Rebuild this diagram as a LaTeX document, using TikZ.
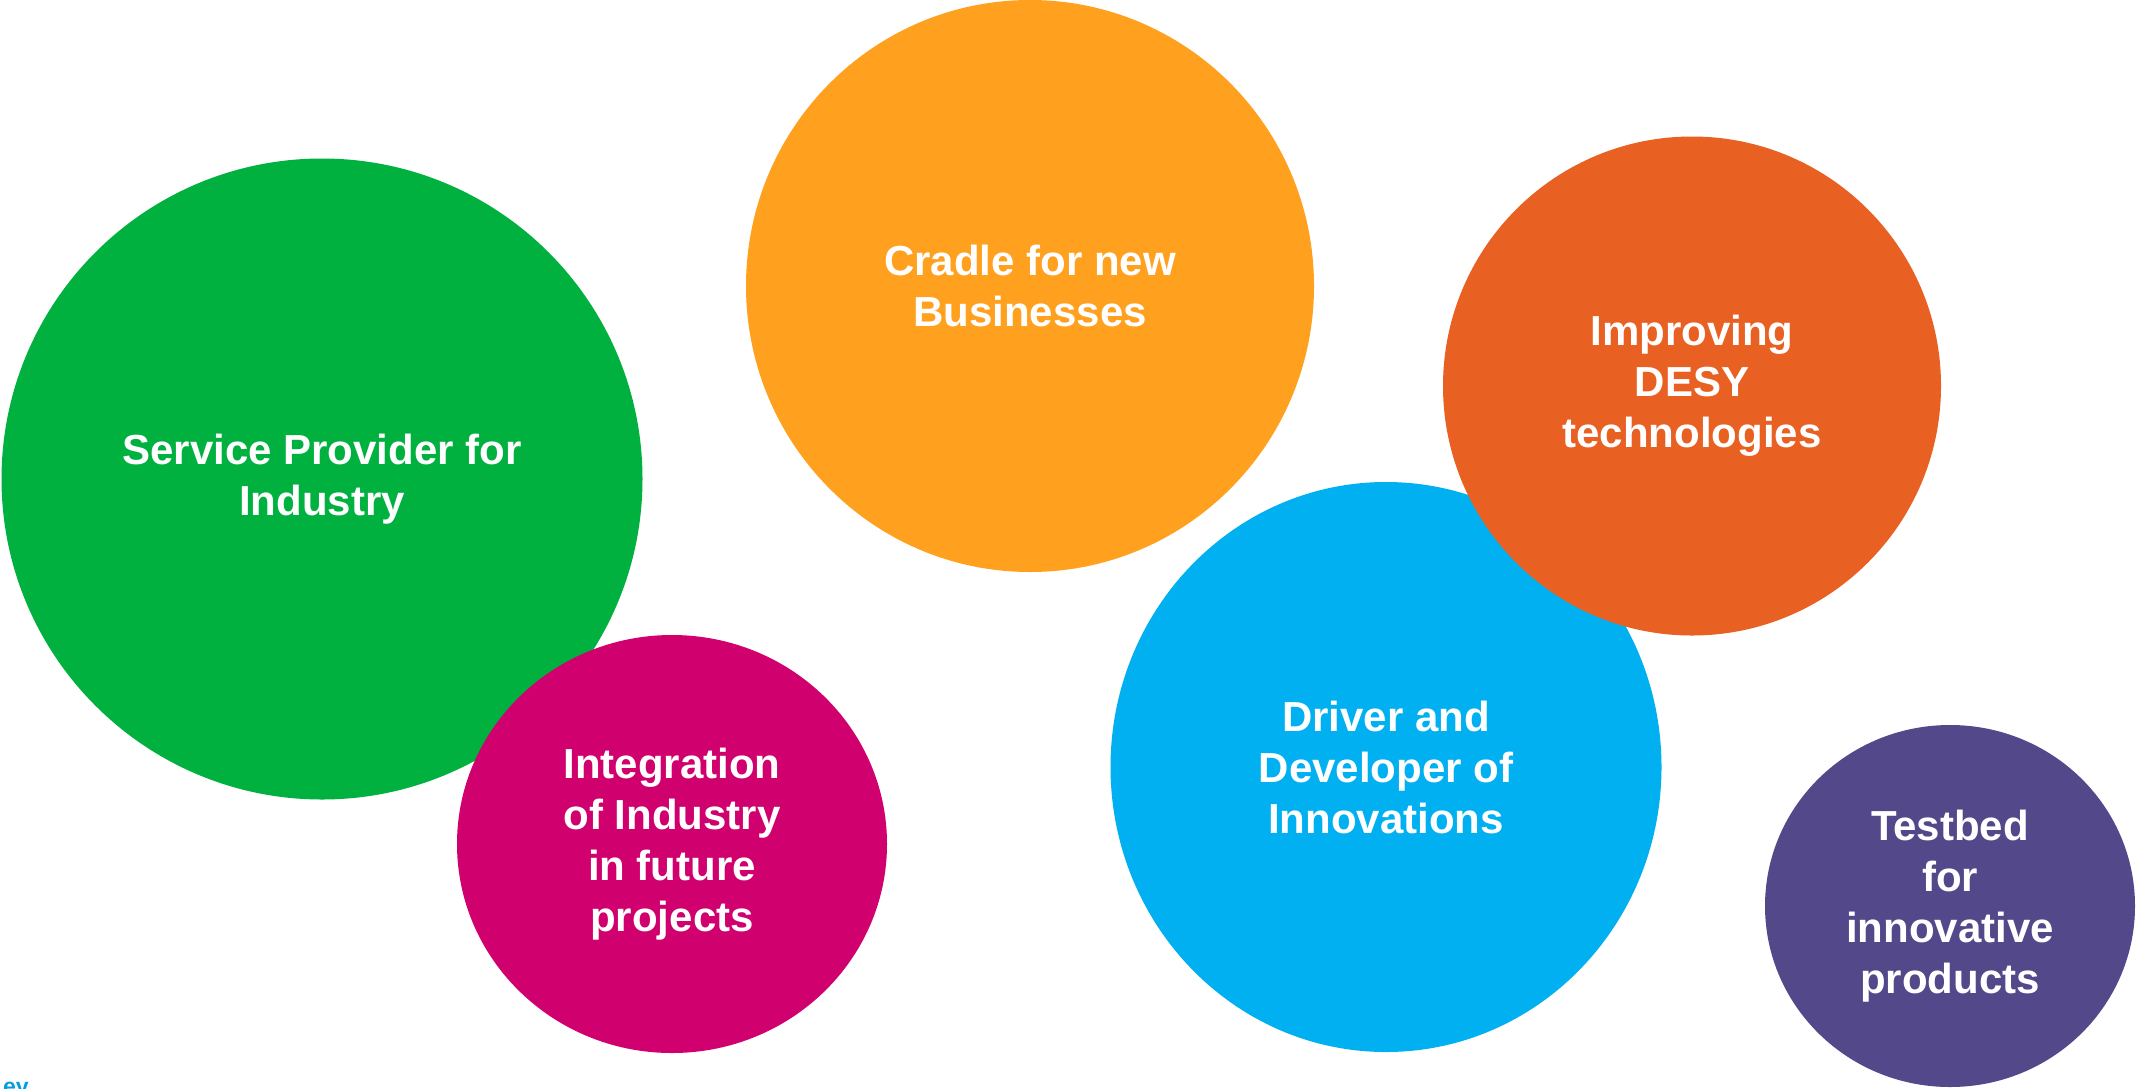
\documentclass[tikz,border=0pt]{standalone}
\usepackage{fontspec}
\setmainfont{Liberation Sans}
\usetikzlibrary{shapes.geometric}
\definecolor{cgreen}{HTML}{00B140}
\definecolor{corange}{HTML}{FFA01E}
\definecolor{cred}{HTML}{E96023}
\definecolor{cblue}{HTML}{00B0F0}
\definecolor{cmagenta}{HTML}{D0006F}
\definecolor{cpurple}{HTML}{52488A}
\definecolor{cfoot}{HTML}{00A0E0}
\begin{document}
\begin{tikzpicture}[x=1pt,y=-1pt,
  bubble/.style={ellipse, inner sep=0pt, outer sep=0pt, text=white, align=center,
    font=\bfseries\fontsize{42}{51}\selectfont}]
\useasboundingbox (0,0) rectangle (2136,1088);
\fill[white] (0,0) rectangle (2136,1088);
\node[bubble, fill=cgreen, minimum width=641pt, minimum height=641pt] (service) at (322,479) {Service Provider for\\Industry};
\node[bubble, fill=cmagenta, minimum width=430pt, minimum height=418pt] (integration) at (672,844) {Integration\\of Industry\\in future\\projects};
\node[bubble, fill=corange, minimum width=568pt, minimum height=572pt] (cradle) at (1030,286) {Cradle for new\\Businesses};
\node[bubble, fill=cblue, minimum width=551pt, minimum height=570pt] (driver) at (1386,767) {Driver and\\Developer of\\Innovations};
\node[bubble, fill=cred, minimum width=498pt, minimum height=499pt] (improving) at (1692,386) {Improving\\DESY\\technologies};
\node[bubble, fill=cpurple, minimum width=370pt, minimum height=362pt] (testbed) at (1950,906) {Testbed\\for\\innovative\\products};
\node[anchor=base west, inner sep=0pt, text=cfoot, font=\bfseries\fontsize{23}{23}\selectfont] (footer) at (3,1094) {ey};
\end{tikzpicture}
\end{document}
